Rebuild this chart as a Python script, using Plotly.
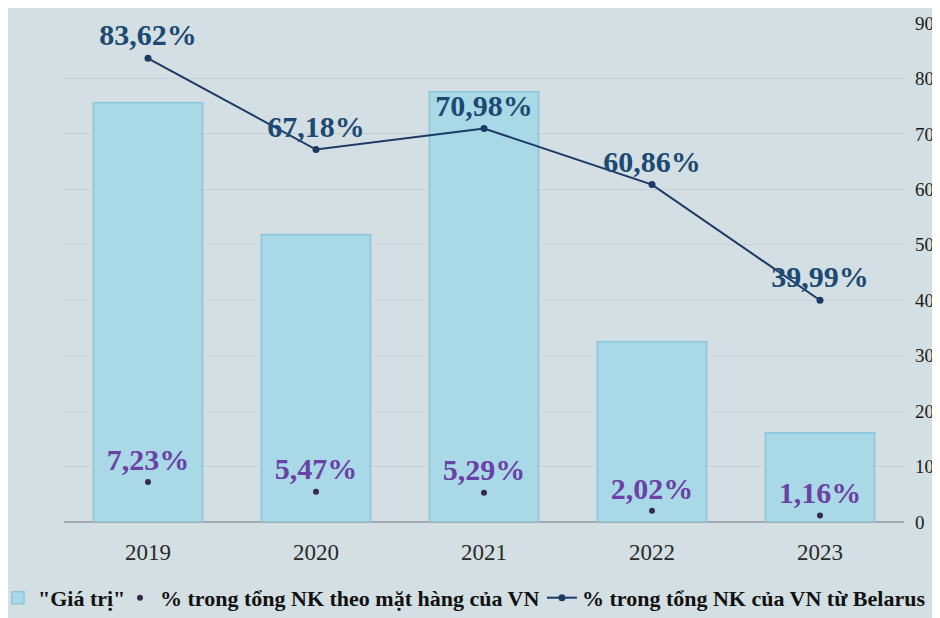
import plotly.graph_objects as go

years = ["2019", "2020", "2021", "2022", "2023"]
gia_tri = [75.6, 51.8, 77.6, 32.5, 16.1]
pct_mat_hang = [7.23, 5.47, 5.29, 2.02, 1.16]
pct_belarus = [83.62, 67.18, 70.98, 60.86, 39.99]
y_ticks = [0, 10, 20, 30, 40, 50, 60, 70, 80, 90]

def fmt(v):
    return "<b>" + f"{v:.2f}%".replace(".", ",") + "</b>"

BG = "#d3dfe2"
SERIF = "Liberation Serif"

fig = go.Figure()
fig.add_trace(go.Bar(
    x=years, y=gia_tri, name='<b>"Giá trị"</b>', legend="legend",
    marker=dict(color="#a9d9e7", line=dict(color="#8ac5de", width=1.5)),
))
fig.add_trace(go.Scatter(
    x=years, y=pct_mat_hang, name="<b>% trong tổng NK theo mặt hàng của VN</b>",
    legend="legend2",
    mode="markers+text", text=[fmt(v) for v in pct_mat_hang],
    textposition="top center",
    textfont=dict(family=SERIF, size=30, color="#6a42a5"),
    marker=dict(color="#342b4f", size=6),
))
fig.add_trace(go.Scatter(
    x=years, y=pct_belarus, name="<b>% trong tổng NK của VN từ Belarus</b>",
    legend="legend3",
    mode="lines+markers+text", text=[fmt(v) for v in pct_belarus],
    textposition="top center",
    textfont=dict(family=SERIF, size=30, color="#1d4a72"),
    line=dict(color="#1b3a66", width=2),
    marker=dict(color="#1b3a66", size=7),
))

leg_common = dict(orientation="h", y=-0.11, xanchor="left", yanchor="top",
                  font=dict(family=SERIF, size=22, color="#111111"),
                  bgcolor="rgba(0,0,0,0)", itemwidth=30)

fig.update_layout(
    width=932, height=610,
    margin=dict(l=56, r=36, t=15, b=96, autoexpand=False),
    paper_bgcolor=BG, plot_bgcolor=BG,
    bargap=0.35,
    font=dict(family=SERIF, color="#222222"),
    showlegend=True,
    legend=dict(x=-0.0786, **leg_common),
    legend2=dict(x=0.0667, **leg_common),
    legend3=dict(x=0.569, **leg_common),
    xaxis=dict(showgrid=False, tickfont=dict(family=SERIF, size=23, color="#2a2a2a"),
               ticks="", showline=False, ticklabelstandoff=14),
    yaxis=dict(side="right", range=[0, 90], tickvals=y_ticks,
               showgrid=True, gridcolor="#c6d2d5", gridwidth=1,
               zeroline=True, zerolinecolor="#a3abae", zerolinewidth=1.5,
               tickfont=dict(family=SERIF, size=19, color="#1a1a1a"),
               ticklabelstandoff=10),
)

fig.write_html("out.html")
